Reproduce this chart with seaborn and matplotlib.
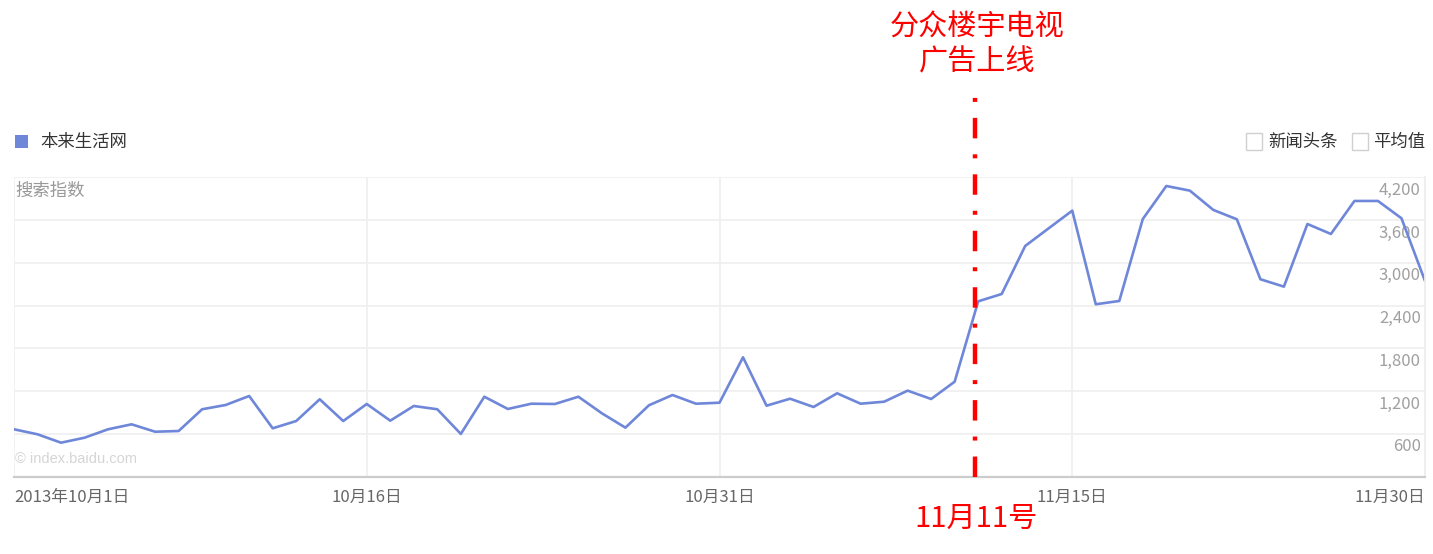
import pandas as pd
import seaborn as sns
import matplotlib.pyplot as plt
import matplotlib.transforms as mtransforms
from matplotlib.patches import Rectangle

# 百度指数：本来生活网，2013-10-01 ~ 2013-11-30（按日）
dates = pd.date_range('2013-10-01', '2013-11-30', freq='D')
index_values = [
    665, 595, 477, 547, 665, 735, 631, 641, 946, 1006,
    1132, 679, 781, 1086, 781, 1020, 786, 992, 946, 600,
    1122, 950, 1024, 1020, 1122, 889, 688, 1002, 1146, 1024,
    1038, 1675, 996, 1094, 978, 1170, 1024, 1052, 1207, 1090,
    1333, 2460, 2563, 3237, 3485, 3732, 2419, 2465, 3615, 4078,
    4013, 3742, 3611, 2770, 2666, 3545, 3405, 3868, 3868, 3625,
    2746,
]
y_ticks = [600, 1200, 1800, 2400, 3000, 3600, 4200]
y_labels = ['600', '1,200', '1,800', '2,400', '3,000', '3,600', '4,200']
x_ticks = pd.to_datetime(['2013-10-01', '2013-10-16', '2013-10-31', '2013-11-15', '2013-11-30'])
x_labels = ['2013年10月1日', '10月16日', '10月31日', '11月15日', '11月30日']
launch_date = pd.Timestamp('2013-11-10 20:30')

sns.set_style('white')
plt.rcParams['font.family'] = ['Noto Sans CJK SC', 'DejaVu Sans']

W, H = 1433, 554
fig = plt.figure(figsize=(W / 100, H / 100), dpi=100)
ax = fig.add_axes([14 / W, 1 - 476.7 / H, (1425 - 14) / W, (476.7 - 177.3) / H])

df = pd.DataFrame({'date': dates, 'value': index_values})
sns.lineplot(data=df, x='date', y='value', ax=ax, color='#6f87d9', linewidth=1.9)

ax.set_xlim(dates[0], dates[-1])
ax.set_ylim(0, 4200)
ax.set_xlabel('')
ax.set_ylabel('')

# 网格与边框
ax.grid(True, color='#f0f0f0', linewidth=1.3)
ax.set_axisbelow(True)
for side in ['left', 'top']:
    ax.spines[side].set_visible(False)
ax.spines['right'].set_color('#eeeeee')
ax.spines['right'].set_linewidth(1.3)
ax.spines['bottom'].set_color('#cccccc')
ax.spines['bottom'].set_linewidth(1.6)

# x 轴刻度
ax.set_xticks(x_ticks)
ax.set_xticklabels(x_labels, fontsize=12, color='#666666')
ax.tick_params(axis='x', length=0, pad=9)
xl = ax.get_xticklabels()
xl[0].set_ha('left')
xl[-1].set_ha('right')

# y 轴刻度（右侧，位于网格线下方）
ax.set_yticks(y_ticks)
ax.set_yticklabels(y_labels, fontsize=12, color='#a0a0a0', ha='right', va='center')
ax.yaxis.tick_right()
ax.tick_params(axis='y', length=0, pad=-3)
offset = mtransforms.ScaledTranslation(0, -0.13, fig.dpi_scale_trans)
for lab in ax.get_yticklabels():
    lab.set_transform(lab.get_transform() + offset)

# 上线日期虚线
ax.axvline(launch_date, ymin=0, ymax=(476.7 - 97) / (476.7 - 177.3), color='#ff0000',
           linewidth=3.2, linestyle=(0, (4.6, 3.6, 0.9, 3.6)), clip_on=False, zorder=5)

# 图例与标注
fig.add_artist(Rectangle((15 / W, 1 - 148 / H), 13 / W, 13 / H, transform=fig.transFigure,
                         facecolor='#6f87d9', edgecolor='none'))
fig.text(40 / W, 1 - 141.5 / H, '本来生活网', fontsize=12.5, color='#333333', va='center')
fig.text(15 / W, 1 - 191 / H, '搜索指数', fontsize=12.5, color='#999999', va='center')
fig.text(15 / W, 1 - 459 / H, '© index.baidu.com', fontsize=10.5, color='#d5d5d5', va='center',
         family=['Liberation Sans', 'DejaVu Sans'])

for bx, label, tx in [(1246, '新闻头条', 1268), (1352, '平均值', 1373)]:
    fig.add_artist(Rectangle((bx / W, 1 - 150 / H), 16 / W, 17 / H, transform=fig.transFigure,
                             facecolor='white', edgecolor='#d0d0d0', linewidth=1))
    fig.text(tx / W, 1 - 141.5 / H, label, fontsize=12.5, color='#333333', va='center')

fig.text(977 / W, 1 - 28 / H, '分众楼宇电视', fontsize=21, color='#ff0000', ha='center', va='center')
fig.text(977 / W, 1 - 62 / H, '广告上线', fontsize=21, color='#ff0000', ha='center', va='center')
fig.text(976 / W, 1 - 519 / H, '11月11号', fontsize=21, color='#ff0000', ha='center', va='center')

fig.savefig('out.png', dpi=100, facecolor='white')
